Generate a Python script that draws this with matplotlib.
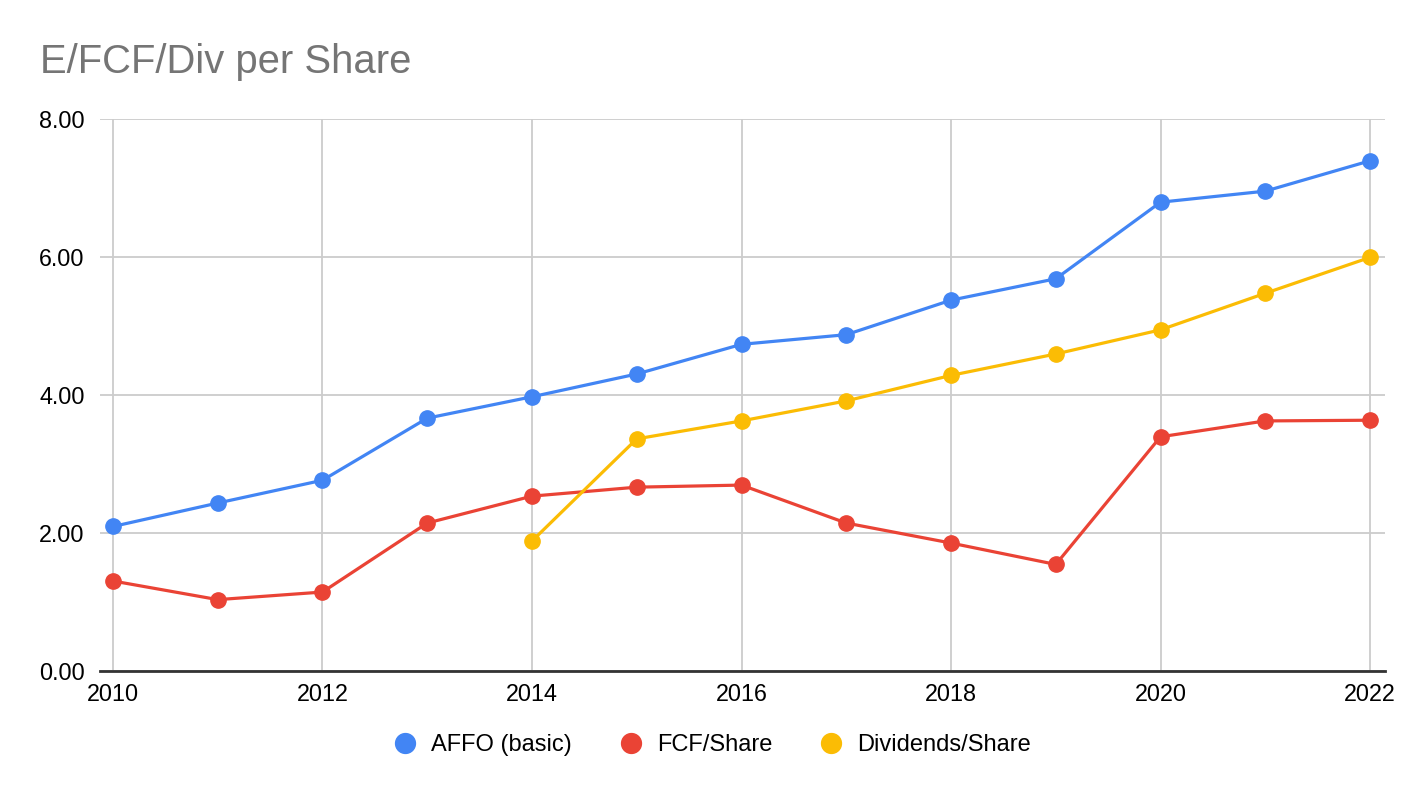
import numpy as np
import matplotlib
matplotlib.use('Agg')
import matplotlib.pyplot as plt

plt.rcParams['font.family'] = ['Liberation Sans', 'DejaVu Sans']

# datos
anios = [2010, 2011, 2012, 2013, 2014, 2015, 2016, 2017, 2018, 2019, 2020, 2021, 2022]
affo = [2.09, 2.43, 2.76, 3.66, 3.97, 4.30, 4.73, 4.87, 5.37, 5.68, 6.79, 6.95, 7.39]
fcf = [1.30, 1.03, 1.14, 2.14, 2.53, 2.66, 2.69, 2.14, 1.85, 1.54, 3.39, 3.62, 3.63]
dividendos = [np.nan, np.nan, np.nan, np.nan, 1.88, 3.36, 3.62, 3.91, 4.28, 4.59, 4.94, 5.47, 5.99]

series = ['AFFO (basic)', 'FCF/Share', 'Dividends/Share']
colores = ['#4285F4', '#EA4335', '#FBBC04']

fig = plt.figure(figsize=(14.24, 7.98), dpi=100)
ax = fig.add_axes([100 / 1424, 1 - 670.7 / 798, 1285 / 1424, 552 / 798])

for valores, nombre, color in zip([affo, fcf, dividendos], series, colores):
    ax.plot(anios, valores, color=color, lw=2.3, marker='o', markersize=11,
            label=nombre, zorder=3)

ax.set_xlim(2009.876, 2022.143)
ax.set_ylim(0, 8)
ax.set_xticks(range(2010, 2023, 2))
ax.set_yticks([0, 2, 4, 6, 8])
ax.set_yticklabels([f'{v:.2f}' for v in [0, 2, 4, 6, 8]])
ax.grid(True, color='#cccccc', lw=1.3)
ax.set_axisbelow(True)
for lado in ['top', 'right', 'left']:
    ax.spines[lado].set_visible(False)
ax.spines['bottom'].set_color('#333333')
ax.spines['bottom'].set_linewidth(2)
ax.spines['bottom'].set_zorder(4)
ax.tick_params(axis='both', length=0, labelsize=16.8, colors='#000000')
ax.tick_params(axis='y', pad=11)
ax.tick_params(axis='x', pad=9)

fig.text(40 / 1424, 1 - 73.3 / 798, 'E/FCF/Div per Share', fontsize=28.8,
         color='#757575', va='baseline', ha='left')

fig.legend(loc='center', bbox_to_anchor=(0.5, 1 - 745 / 798), ncol=3,
           frameon=False, fontsize=17, handlelength=1.0, handletextpad=0.6,
           columnspacing=2.0, markerscale=1.3)
leg = fig.legends[0]
for linea in leg.get_lines():
    linea.set_linestyle('none')

fig.savefig('out.png', dpi=100)
